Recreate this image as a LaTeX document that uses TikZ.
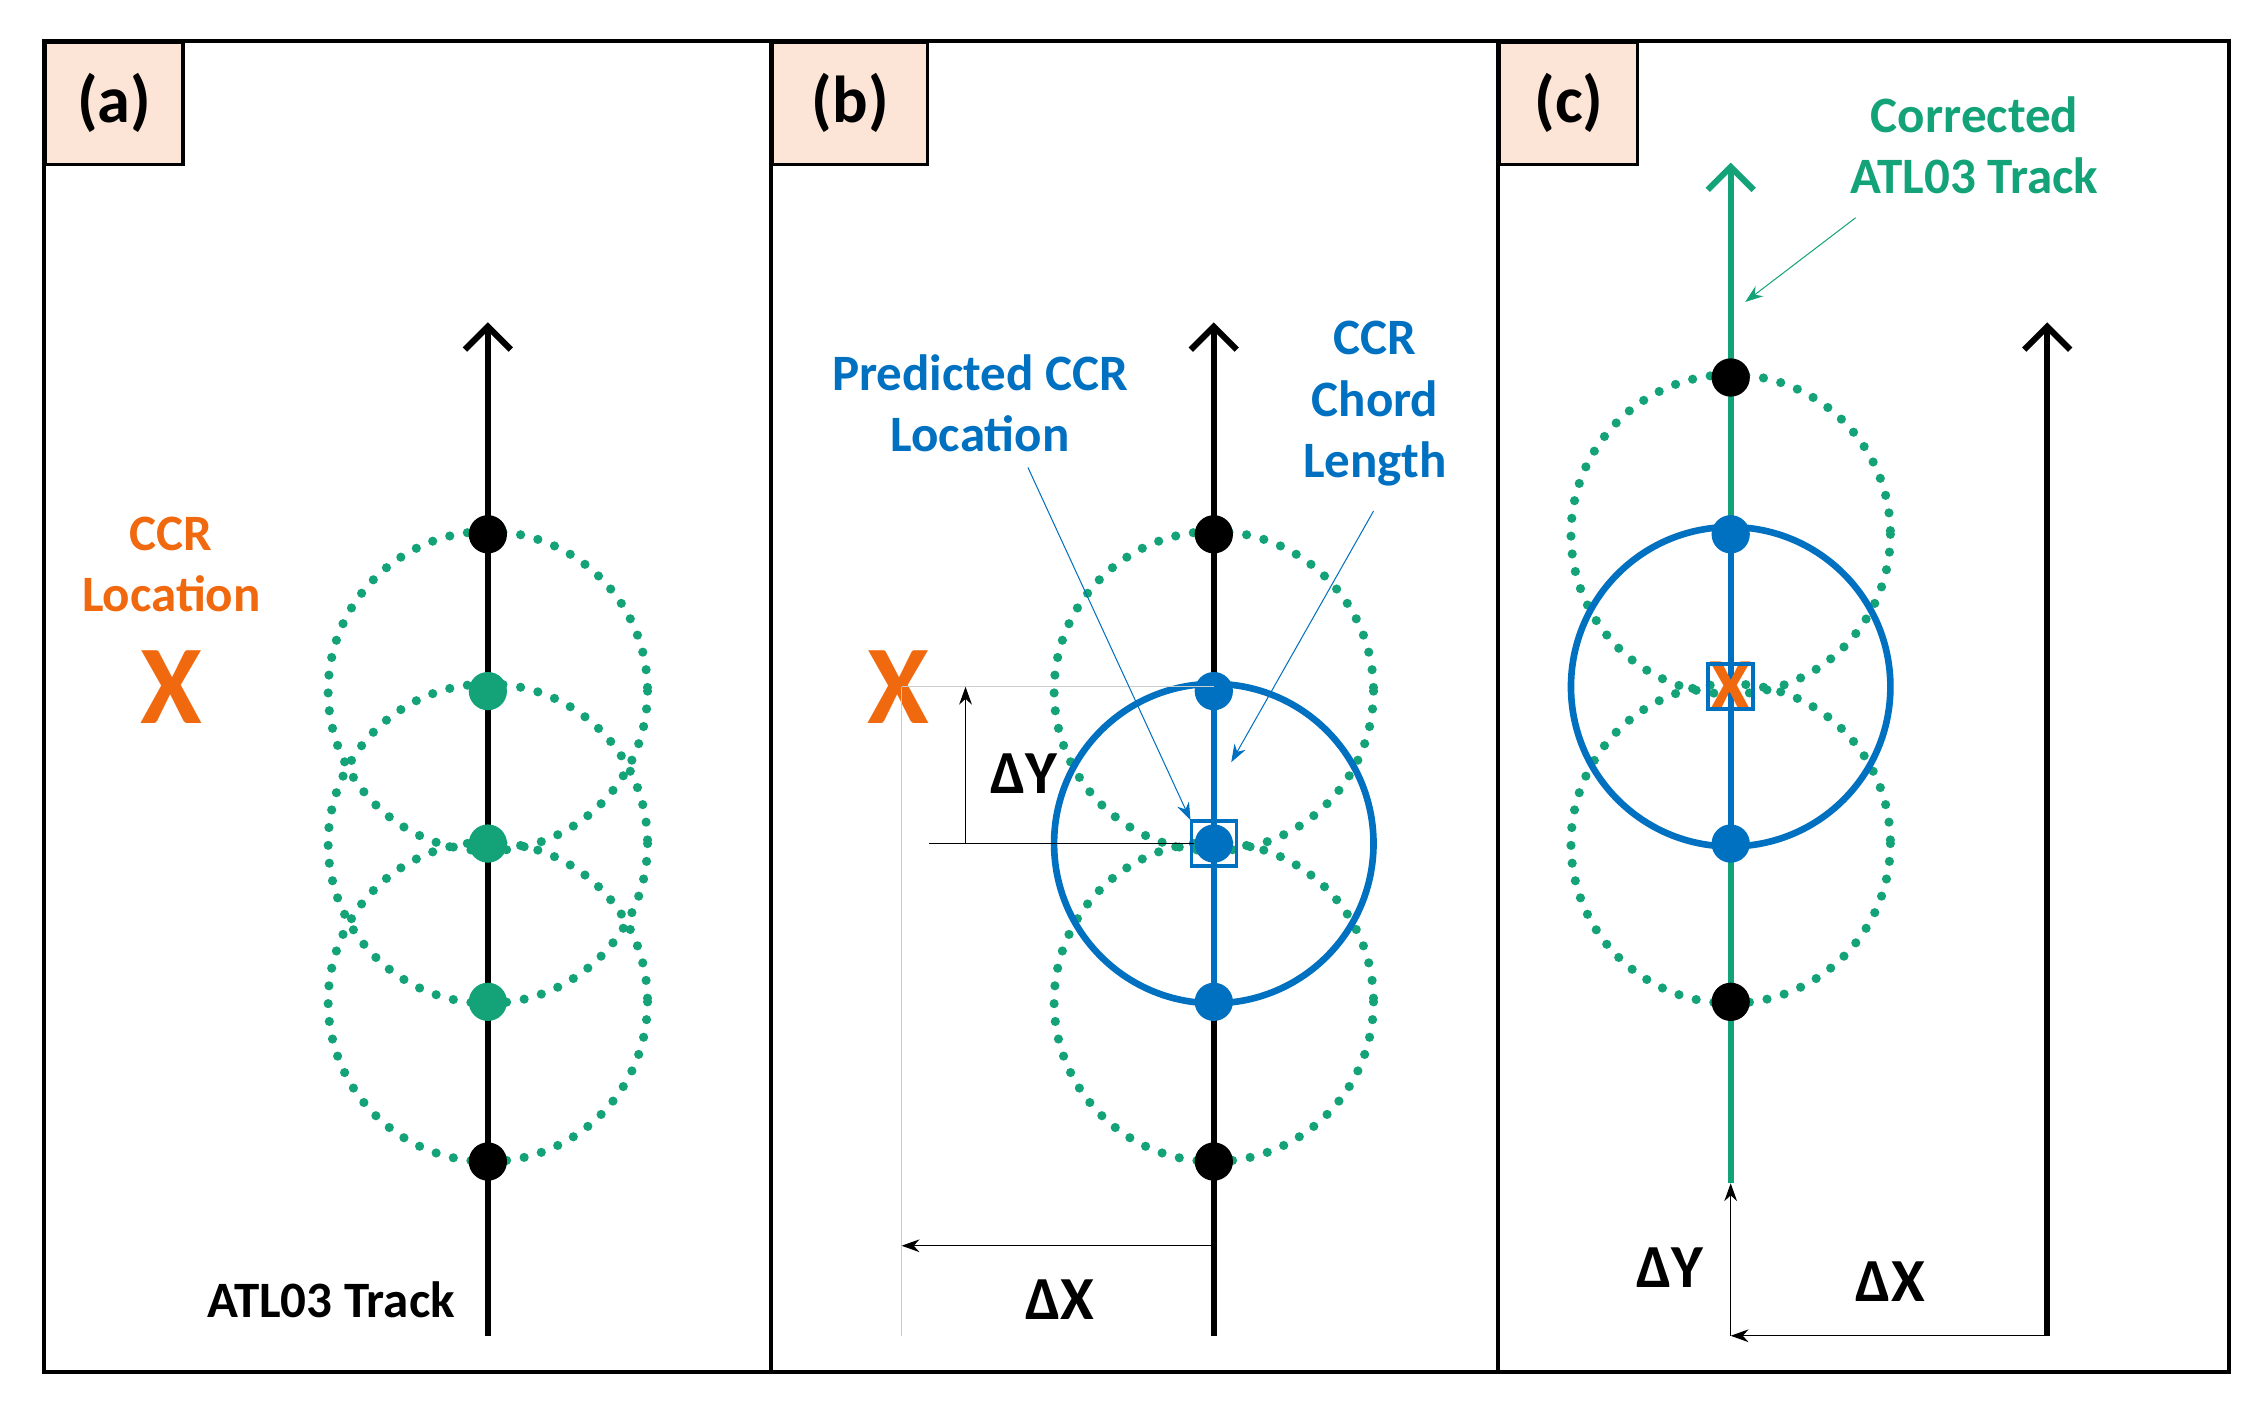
\documentclass[tikz,border=0pt]{standalone}
\usepackage{fontspec}
\setmainfont{Carlito}
\usetikzlibrary{arrows.meta}
\definecolor{ccrgreen}{RGB}{20,163,120}
\definecolor{ccrblue}{RGB}{0,112,192}
\definecolor{ccrorange}{RGB}{240,105,15}
\definecolor{tagfill}{RGB}{252,228,214}
\tikzset{
  dotcirc/.style={ccrgreen,line width=3.6pt,dash pattern=on 0pt off 7pt,line cap=round},
  spot/.style={circle,inner sep=0pt,minimum size=15pt},
  tag/.style={draw,line width=1.2pt,fill=tagfill,anchor=north west,font=\fontsize{26}{28}\selectfont\bfseries},
  lbl/.style={font=\fontsize{20}{24}\selectfont\bfseries,align=center},
  dlbl/.style={font=\fontsize{24}{24}\selectfont\bfseries},
  bigx/.style={text=ccrorange,font=\fontsize{44}{44}\selectfont\bfseries},
  dimarrow/.style={thin,-{Stealth[length=7pt,width=5pt]}},
  trackarrow/.style={line width=2.4pt,-{Straight Barb[length=9pt,width=18pt]}}
}
\begin{document}
\begin{tikzpicture}[x=0.02cm,y=-0.02cm]
  \useasboundingbox (0,0) rectangle (1560,973);
  % frames and tags
  \draw[line width=1.6pt] (30,28) rectangle (1535,945);
  \draw[line width=1.6pt] (531,28) -- (531,945) (1032,28) -- (1032,945);
  \node[tag,minimum width=1.9cm,minimum height=1.68cm] (taga) at (30,28) {(a)};
  \node[tag,minimum width=2.14cm,minimum height=1.68cm] (tagb) at (531,28) {(b)};
  \node[tag,minimum width=1.9cm,minimum height=1.68cm] (tagc) at (1032,28) {(c)};

  % panel (a)
  \coordinate (abot) at (336,920);
  \coordinate (atop) at (336,222);
  \foreach \y in {476,581,690}
    \draw[dotcirc] (336,\y) circle (110);
  \draw[trackarrow] (abot) -- (atop);
  \foreach \y/\c in {368/black,476/ccrgreen,581/ccrgreen,690/ccrgreen,800/black}
    \node[spot,fill=\c] (a\y) at (336,\y) {};
  \node[lbl,text=ccrorange] (aloc) at (118,389) {CCR\\Location};
  \node[bigx] (ax) at (118,473) {X};
  \node[lbl] (atrack) at (228,895) {ATL03 Track};

  % panel (b)
  \coordinate (bbot) at (836,920);
  \coordinate (btop) at (836,222);
  \foreach \y in {476,690}
    \draw[dotcirc] (836,\y) circle (110);
  \draw[ccrblue,line width=2.6pt] (836,581) circle (110);
  \draw[trackarrow] (bbot) -- (btop);
  \draw[ccrblue,line width=2.4pt] (836,476) -- (836,690);
  \foreach \y/\c in {368/black,476/ccrblue,690/ccrblue,800/black}
    \node[spot,fill=\c] (b\y) at (836,\y) {};
  \node[spot,fill=ccrblue] (bmid) at (836,581) {};
  \node[draw=ccrblue,line width=1.4pt,minimum size=0.62cm,inner sep=0pt] (bsq) at (836,581) {};
  \node[bigx] (bx) at (619,473) {X};
  \coordinate (bxr) at (621,473);
  \coordinate (bxd) at (621,920);
  \draw[gray!40,thin] (bxr) -- (836,473) (bxr) -- (bxd);
  \coordinate (bdyl) at (640,581);
  \coordinate (bdyf) at (665,581);
  \coordinate (bdyt) at (665,473);
  \draw[thin] (bdyl) -- (bmid);
  \draw[dimarrow] (bdyf) -- (bdyt);
  \node[dlbl] (bdy) at (705,533) {ΔY};
  \coordinate (bdxs) at (836,858);
  \coordinate (bdxe) at (621,858);
  \draw[dimarrow] (bdxs) -- (bdxe);
  \node[dlbl] (bdx) at (730,895) {ΔX};
  \node[lbl,text=ccrblue] (bpred) at (675,278) {Predicted CCR\\Location};
  \node[lbl,text=ccrblue] (bchord) at (947,278) {CCR\\Chord\\Length};
  \coordinate (bp1) at (708,322);
  \coordinate (bp2) at (820,565);
  \coordinate (bc1) at (946,352);
  \coordinate (bc2) at (848,525);
  \draw[ccrblue,dimarrow] (bp1) -- (bp2);
  \draw[ccrblue,dimarrow] (bc1) -- (bc2);

  % panel (c)
  \coordinate (cbot) at (1192,815);
  \coordinate (ctop) at (1192,112);
  \foreach \y in {368,581}
    \draw[dotcirc] (1192,\y) circle (110);
  \draw[ccrblue,line width=2.6pt] (1192,473) circle (110);
  \draw[trackarrow,ccrgreen] (cbot) -- (ctop);
  \draw[ccrblue,line width=2.4pt] (1192,368) -- (1192,581);
  \foreach \y/\c in {260/black,368/ccrblue,581/ccrblue,690/black}
    \node[spot,fill=\c] (c\y) at (1192,\y) {};
  \node[bigx,font=\fontsize{30}{30}\selectfont\bfseries] (cx) at (1192,473) {X};
  \node[draw=ccrblue,line width=1.4pt,minimum size=0.62cm,inner sep=0pt] (csq) at (1192,473) {};
  \coordinate (rbot) at (1410,920);
  \coordinate (rtop) at (1410,222);
  \draw[trackarrow] (rbot) -- (rtop);
  \coordinate (cdys) at (1192,920);
  \draw[dimarrow] (cdys) -- (cbot);
  \draw[dimarrow] (rbot) -- (cdys);
  \node[dlbl] (cdy) at (1150,873) {ΔY};
  \node[dlbl] (cdx) at (1302,883) {ΔX};
  \node[lbl,text=ccrgreen] (ccorr) at (1360,100) {Corrected\\ATL03 Track};
  \coordinate (cc1) at (1278,150);
  \coordinate (cc2) at (1202,208);
  \draw[ccrgreen,dimarrow] (cc1) -- (cc2);
\end{tikzpicture}
\end{document}
